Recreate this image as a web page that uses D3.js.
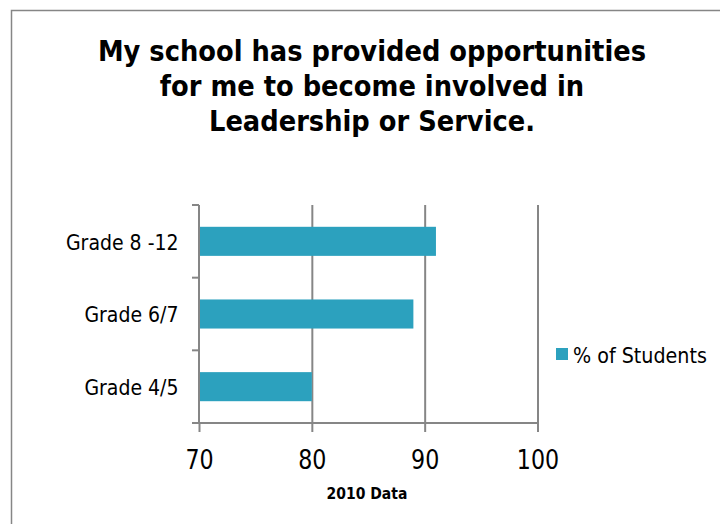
<!DOCTYPE html>
<html><head><meta charset="utf-8">
<script src="https://cdn.jsdelivr.net/npm/d3@7"></script>
<style>body{margin:0;background:#fff} svg{display:block}</style>
</head><body><svg id="c" width="720" height="524"></svg>
<script>
const categories = ["Grade 8 -12", "Grade 6/7", "Grade 4/5"];
const values = [91, 89, 80];
const seriesName = "% of Students";
const xTicks = [70, 80, 90, 100];
const titleLines = ["My school has provided opportunities", "for me to become involved in", "Leadership or Service."];
const xAxisTitle = "2010 Data";

(function () {
const FONT = "'DejaVu Sans', Verdana, Tahoma, sans-serif";
const GRID = "#868686";
const BAR = "#2ca1be";

const svg = d3.select("#c");
function condense(sel, k) {
  sel.each(function () {
    const w = this.getComputedTextLength();
    d3.select(this).attr("textLength", w * k).attr("lengthAdjust", "spacingAndGlyphs");
  });
}

// frame
svg.append("rect").attr("x", 11.5).attr("y", 10.5).attr("width", 760).attr("height", 560)
  .attr("fill", "#fff").attr("stroke", GRID).attr("stroke-width", 1.5);

// title
const title = svg.append("text").attr("x", 372).attr("text-anchor", "middle")
  .attr("font-family", FONT).attr("font-weight", "bold").attr("font-size", 28).attr("fill", "#000");
titleLines.forEach((t, i) => {
  title.append("tspan").attr("x", 372).attr("y", 60.5 + i * 35).text(t);
});
condense(title.selectAll("tspan"), 0.92);

const pL = 199, pR = 537.5, pT = 205, pB = 423;
const x = d3.scaleLinear().domain([70, 100]).range([pL, pR]);
const y = d3.scaleBand().domain(categories).range([pT, pB]).paddingInner(0.6).paddingOuter(0.3);

// gridlines
const grid = svg.append("g").attr("transform", `translate(0,${pB})`)
  .call(d3.axisBottom(x).tickValues(xTicks.slice(1)).tickSizeInner(-(pB - pT)).tickSizeOuter(0).tickFormat(""));
grid.select(".domain").remove();
grid.selectAll("line").attr("stroke", GRID).attr("stroke-width", 2);

// bars
svg.append("g").selectAll("rect").data(categories).join("rect")
  .attr("x", x(70))
  .attr("y", d => y(d))
  .attr("width", (d, i) => x(values[i]) - x(70))
  .attr("height", y.bandwidth())
  .attr("fill", BAR);

// x axis
const xa = svg.append("g").attr("transform", `translate(0,${pB})`)
  .call(d3.axisBottom(x).tickValues(xTicks).tickSizeInner(9).tickSizeOuter(0).tickFormat(d3.format("d")));
xa.select(".domain").attr("stroke", GRID).attr("stroke-width", 2).attr("d", `M${pL - 7},0H${pR}`);
xa.selectAll(".tick line").attr("stroke", GRID).attr("stroke-width", 2);
xa.selectAll(".tick text").attr("y", 46).attr("dy", 0)
  .attr("font-family", FONT).attr("font-size", 27).attr("fill", "#000");
condense(xa.selectAll(".tick text"), 0.82);

// y axis
const ya = svg.append("g").attr("transform", `translate(${pL},0)`)
  .call(d3.axisLeft(y).tickSize(0).tickPadding(20.5));
ya.select(".domain").attr("stroke", GRID).attr("stroke-width", 2).attr("d", `M0,${pT}V${pB}`);
ya.selectAll(".tick text").attr("font-family", FONT).attr("font-size", 21).attr("fill", "#000").attr("dy", "0.4em");
condense(ya.selectAll(".tick text"), 0.9);
const bounds = categories.map(c => y(c) + y.bandwidth() / 2 - y.step() / 2).concat([pB]);
ya.selectAll("line.bound").data(bounds).join("line").attr("class", "bound")
  .attr("x1", -7).attr("x2", 0).attr("y1", d => d).attr("y2", d => d)
  .attr("stroke", GRID).attr("stroke-width", 2);

// x axis title
const xt = svg.append("text").attr("x", 367).attr("y", 499).attr("text-anchor", "middle")
  .attr("font-family", FONT).attr("font-weight", "bold").attr("font-size", 15).attr("fill", "#000")
  .text(xAxisTitle);
condense(xt, 0.93);

// legend
const lg = svg.append("g");
lg.append("rect").attr("x", 556).attr("y", 348).attr("width", 12).attr("height", 12).attr("fill", BAR);
const lt = lg.append("text").attr("x", 573).attr("y", 362.5)
  .attr("font-family", FONT).attr("font-size", 21).attr("fill", "#000").text(seriesName);
condense(lt, 0.91);
})();
</script></body></html>
